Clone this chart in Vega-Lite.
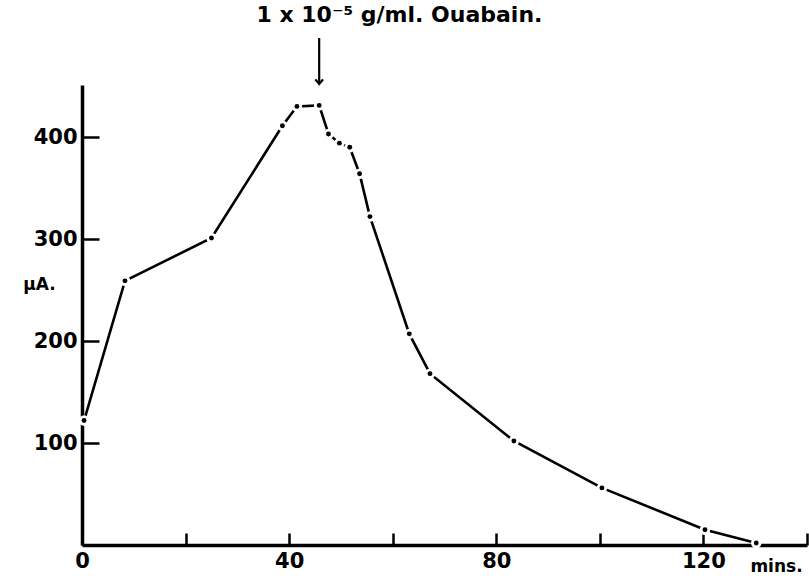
{
  "$schema": "https://vega.github.io/schema/vega-lite/v6.json",
  "autosize": "none",
  "width": 725,
  "height": 460,
  "padding": {"left": 82, "top": 85, "right": 2, "bottom": 31},
  "background": "white",
  "config": {"view": {"stroke": null}, "font": "DejaVu Sans"},
  "datasets": {
    "curve": [
      {"t": 0.4, "ua": 122},
      {"t": 8.3, "ua": 259},
      {"t": 25.0, "ua": 301},
      {"t": 38.7, "ua": 411},
      {"t": 41.5, "ua": 430},
      {"t": 45.8, "ua": 431},
      {"t": 47.6, "ua": 403},
      {"t": 49.7, "ua": 394},
      {"t": 51.7, "ua": 390},
      {"t": 53.6, "ua": 364},
      {"t": 55.6, "ua": 322},
      {"t": 63.2, "ua": 207},
      {"t": 67.2, "ua": 168},
      {"t": 83.4, "ua": 102},
      {"t": 100.4, "ua": 56},
      {"t": 120.3, "ua": 15},
      {"t": 130.2, "ua": 2}
    ],
    "arrow": [
      {"t": 45.8, "y1": 497, "y2": 452}
    ],
    "note": [
      {"t": 61.3, "ua": 520, "label": "1 x 10⁻⁵ g/ml. Ouabain."}
    ]
  },
  "layer": [
    {
      "data": {"name": "curve"},
      "mark": {"type": "line", "color": "black", "strokeWidth": 2.6, "clip": false},
      "encoding": {
        "x": {
          "field": "t", "type": "quantitative",
          "scale": {"domain": [0, 140], "nice": false, "zero": false},
          "axis": {
            "title": "mins.",
            "titleFontSize": 17, "titleFontWeight": "bold", "titleColor": "black",
            "titleAngle": 0, "titleX": 694, "titleY": 21, "titleAlign": "center", "titleBaseline": "middle",
            "values": [0, 20, 40, 60, 80, 100, 120, 140],
            "labelExpr": "datum.value % 40 == 0 && datum.value < 140 ? datum.label : ''",
            "labelFontSize": 21, "labelFontWeight": "bold", "labelColor": "black",
            "labelPadding": 17,
            "tickSize": -12, "tickWidth": 2.5, "tickColor": "black",
            "domainColor": "black", "domainWidth": 3.5,
            "grid": false, "labelFlush": false, "labelOverlap": false
          }
        },
        "y": {
          "field": "ua", "type": "quantitative",
          "scale": {"domain": [0, 451], "nice": false},
          "axis": {
            "title": "μA.",
            "titleFontSize": 17, "titleFontWeight": "bold", "titleColor": "black",
            "titleAngle": 0, "titleX": -43, "titleY": 199, "titleAlign": "center", "titleBaseline": "middle",
            "values": [100, 200, 300, 400],
            "labelFontSize": 21, "labelFontWeight": "bold", "labelColor": "black",
            "labelPadding": 22,
            "tickSize": -17, "tickWidth": 2.5, "tickColor": "black",
            "domainColor": "black", "domainWidth": 3.5,
            "grid": false
          }
        }
      }
    },
    {
      "data": {"name": "curve"},
      "mark": {"type": "point", "filled": true, "color": "white", "opacity": 1, "size": 110, "clip": false},
      "encoding": {
        "x": {"field": "t", "type": "quantitative"},
        "y": {"field": "ua", "type": "quantitative"}
      }
    },
    {
      "data": {"name": "curve"},
      "mark": {"type": "point", "filled": true, "color": "black", "opacity": 1, "size": 24, "clip": false},
      "encoding": {
        "x": {"field": "t", "type": "quantitative"},
        "y": {"field": "ua", "type": "quantitative"}
      }
    },
    {
      "data": {"name": "arrow"},
      "mark": {"type": "rule", "color": "black", "strokeWidth": 2.2, "clip": false},
      "encoding": {
        "x": {"field": "t", "type": "quantitative"},
        "y": {"field": "y1", "type": "quantitative"},
        "y2": {"field": "y2"}
      }
    },
    {
      "data": {"name": "arrow"},
      "mark": {"type": "point", "shape": "M-1,-1.2L0,0L1,-1.2", "filled": false, "color": "black", "strokeWidth": 2.2, "opacity": 1, "size": 60, "clip": false},
      "encoding": {
        "x": {"field": "t", "type": "quantitative"},
        "y": {"field": "y2", "type": "quantitative"}
      }
    },
    {
      "data": {"name": "note"},
      "mark": {"type": "text", "font": "DejaVu Sans", "fontSize": 22, "fontWeight": "bold", "color": "black", "align": "center", "baseline": "middle", "clip": false},
      "encoding": {
        "x": {"field": "t", "type": "quantitative"},
        "y": {"field": "ua", "type": "quantitative"},
        "text": {"field": "label"}
      }
    }
  ]
}
